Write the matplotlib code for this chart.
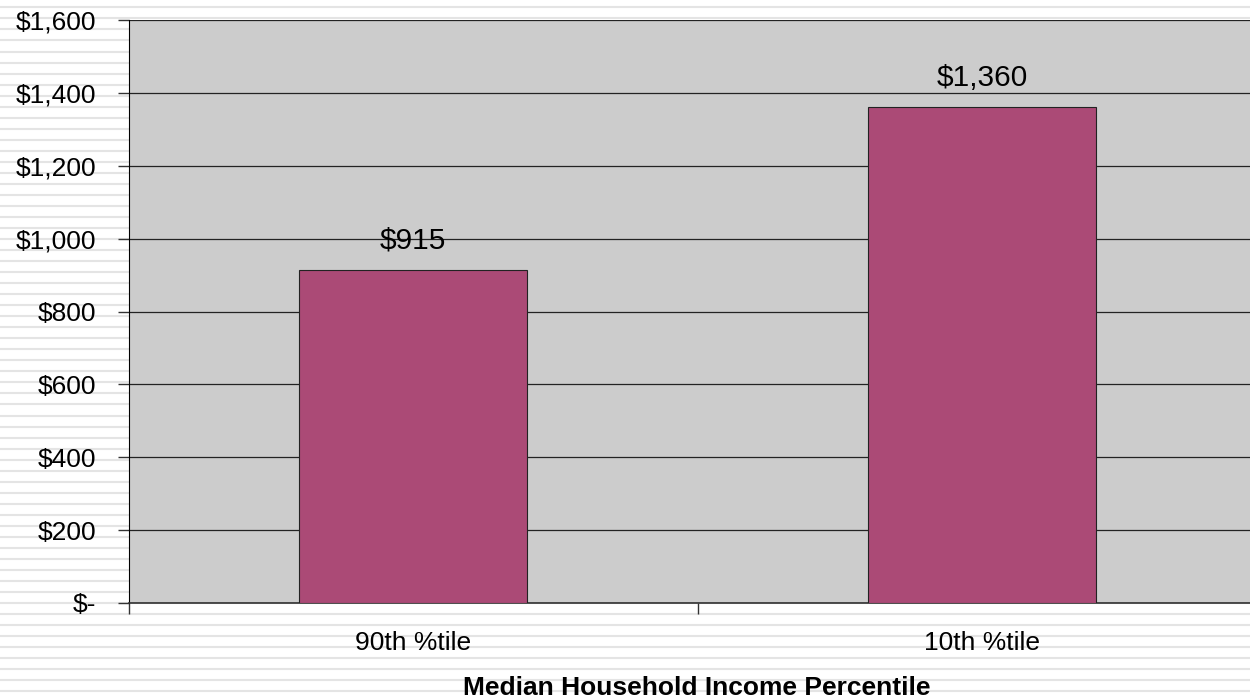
import matplotlib
matplotlib.use("Agg")
import matplotlib.pyplot as plt
import numpy as np

categories = ["90th %tile", "10th %tile"]
values = [915, 1360]
value_labels = ["$915", "$1,360"]
y_ticks = [0, 200, 400, 600, 800, 1000, 1200, 1400, 1600]
y_tick_labels = ["$-", "$200", "$400", "$600", "$800", "$1,000", "$1,200", "$1,400", "$1,600"]
x_label = "Median Household Income Percentile"

plt.rcParams["font.family"] = ["Liberation Sans", "DejaVu Sans"]

W, H = 1250, 698
fig = plt.figure(figsize=(W / 100, H / 100), dpi=100)
fig.patch.set_facecolor("white")

# striped page background
bg = fig.add_axes([0, 0, 1, 1], zorder=0)
bg.set_xlim(0, W)
bg.set_ylim(H, 0)
bg.axis("off")
for y in np.arange(7.4, H, 11.03):
    bg.axhline(y, color="#e4e4e4", lw=1.5)

left = 128.5 / W
right = 1266.5 / W
bottom = (H - 603) / H
top = (H - 20) / H
ax = fig.add_axes([left, bottom, right - left, top - bottom], zorder=1)
ax.set_facecolor("#cccccc")

x = np.arange(len(categories))
ax.bar(x, values, width=0.4, color="#ab4a76", edgecolor="#222222", linewidth=0.8, zorder=3)

ax.set_xlim(-0.5, len(categories) - 0.5)
ax.set_ylim(0, 1600)
ax.set_yticks(y_ticks)
ax.set_yticklabels(y_tick_labels, fontsize=19)
ax.yaxis.grid(True, color="#222222", lw=0.9, zorder=1)
ax.set_axisbelow(True)

ax.set_xticks(np.arange(-0.5, len(categories), 1.0))
ax.set_xticklabels([])
ax.set_xticks(x, minor=True)
ax.set_xticklabels(categories, minor=True, fontsize=19)
ax.tick_params(axis="x", which="minor", length=0, pad=20)
ax.tick_params(axis="x", which="major", length=8, width=1, direction="out", color="#333333")
ax.tick_params(axis="y", length=8, width=1, direction="out", color="#333333", pad=15)
for lab in ax.get_yticklabels():
    lab.set_horizontalalignment("right")

for s in ["top", "right"]:
    ax.spines[s].set_visible(False)
ax.spines["left"].set_color("black")
ax.spines["bottom"].set_color("#333333")
ax.spines["bottom"].set_linewidth(1.2)

for xi, v, lab in zip(x, values, value_labels):
    ax.annotate(lab, (xi, v), xytext=(0, 21), textcoords="offset points",
                ha="center", va="center", fontsize=21.5, zorder=4)

fig.text(697 / W, 1 - 688 / H, x_label, ha="center", va="center",
         fontsize=19, fontweight="bold")

fig.savefig("out.png", dpi=100, facecolor="white")
